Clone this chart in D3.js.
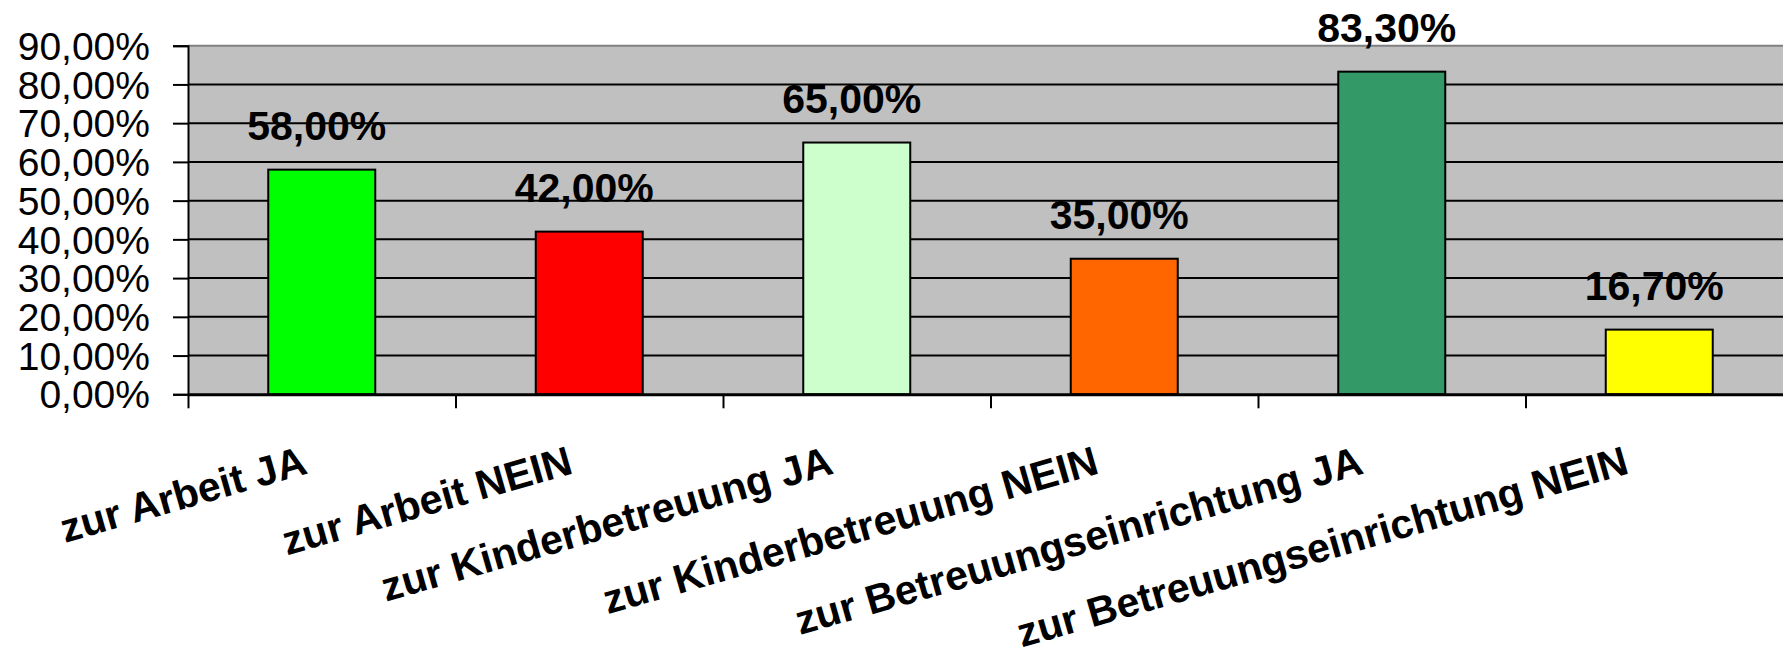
<!DOCTYPE html>
<html>
<head>
<meta charset="utf-8">
<script src="https://cdn.jsdelivr.net/npm/d3@7"></script>
<style>
  html, body { margin: 0; padding: 0; background: #ffffff; }
  svg { display: block; }
  text { font-family: "Liberation Sans", Arial, sans-serif; fill: #000; }
</style>
</head>
<body>
<svg id="chart" width="1783" height="661"></svg>
<script>
const categories = [
  "zur Arbeit JA",
  "zur Arbeit NEIN",
  "zur Kinderbetreuung JA",
  "zur Kinderbetreuung NEIN",
  "zur Betreuungseinrichtung JA",
  "zur Betreuungseinrichtung NEIN"
];
const values = [0.58, 0.42, 0.65, 0.35, 0.833, 0.167];
const barColors = ["#00ff00", "#ff0000", "#ccffcc", "#ff6600", "#339966", "#ffff00"];
const yTicks = [0, 0.1, 0.2, 0.3, 0.4, 0.5, 0.6, 0.7, 0.8, 0.9];

const locale = d3.formatLocale({decimal: ",", thousands: ".", grouping: [3], currency: ["", " €"], percent: "%"});
const fmt = locale.format(".2%");

const svg = d3.select("#chart");
const plotLeft = 188, plotRight = 1793, plotTop = 45.7, plotBottom = 394.3;

const y = d3.scaleLinear().domain([0, 0.9]).range([plotBottom, plotTop]);
const xBand = d3.scaleBand().domain(categories).range([plotLeft, plotRight]).padding(0);
const xEdge = d3.scaleLinear().domain([0, categories.length]).range([plotLeft, plotRight]);

// plot background
svg.append("rect")
  .attr("x", plotLeft).attr("y", plotTop)
  .attr("width", plotRight - plotLeft).attr("height", plotBottom - plotTop)
  .attr("fill", "#c0c0c0");

// gridlines
svg.append("g").selectAll("line")
  .data(yTicks.filter(t => t > 0 && t < 0.9))
  .join("line")
  .attr("x1", plotLeft).attr("x2", plotRight)
  .attr("y1", d => y(d)).attr("y2", d => y(d))
  .attr("stroke", "#000").attr("stroke-width", 2);

// top border
svg.append("line")
  .attr("x1", plotLeft).attr("x2", plotRight)
  .attr("y1", y(0.9)).attr("y2", y(0.9))
  .attr("stroke", "#808080").attr("stroke-width", 2);

// bars
const bw = xBand.bandwidth();
svg.append("g").selectAll("rect")
  .data(categories)
  .join("rect")
  .attr("x", d => xBand(d) + bw * 0.3)
  .attr("width", bw * 0.4)
  .attr("y", (d, i) => y(values[i]))
  .attr("height", (d, i) => y(0) - y(values[i]))
  .attr("fill", (d, i) => barColors[i])
  .attr("stroke", "#000").attr("stroke-width", 2);

// data labels
svg.append("g").selectAll("text")
  .data(categories)
  .join("text")
  .attr("x", d => xBand(d) + bw / 2 - 5)
  .attr("y", (d, i) => y(values[i]) - 30)
  .attr("text-anchor", "middle")
  .attr("font-size", 41)
  .attr("font-weight", "bold")
  .text((d, i) => fmt(values[i]));

// y axis
const yAxis = d3.axisLeft(y).tickValues(yTicks).tickFormat(fmt).tickSize(15).tickPadding(23);
const gy = svg.append("g").attr("transform", `translate(${plotLeft},0)`).call(yAxis);
gy.select(".domain").attr("stroke", "#000").attr("stroke-width", 2);
gy.selectAll(".tick line").attr("stroke", "#000").attr("stroke-width", 2);
gy.selectAll(".tick text")
  .attr("font-size", 39)
  .attr("font-family", "'Liberation Sans', Arial, sans-serif")
  .attr("fill", "#000")
  .attr("dy", "0.35em");

// x axis
const xAxis = d3.axisBottom(xEdge).tickValues(d3.range(categories.length + 1)).tickFormat("").tickSize(14).tickSizeOuter(0);
const gx = svg.append("g").attr("transform", `translate(0,${plotBottom})`).call(xAxis);
gx.select(".domain").attr("stroke", "#000").attr("stroke-width", 3);
gx.selectAll(".tick line").attr("stroke", "#000").attr("stroke-width", 2);

// category labels
const catLabels = svg.append("g").selectAll("text")
  .data(categories)
  .join("text")
  .attr("text-anchor", "end")
  .attr("font-size", 41)
  .attr("font-weight", "bold")
  .text(d => d);
catLabels.each(function(d) {
  const L = this.getComputedTextLength();
  const dx = -13 - 0.042 * (L - 257);
  d3.select(this).attr("transform", `translate(${xBand(d) + bw / 2 + dx},473) rotate(-16)`);
});
</script>
</body>
</html>
